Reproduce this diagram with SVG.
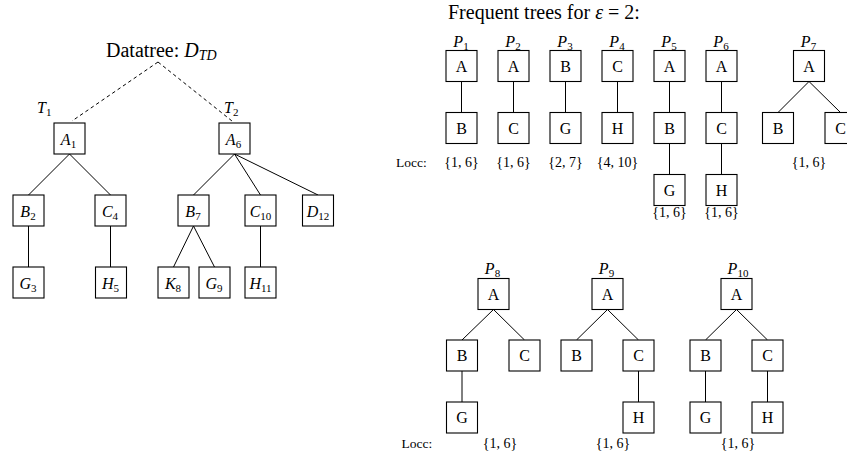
<svg xmlns="http://www.w3.org/2000/svg" width="847" height="461" viewBox="0 0 847 461">
<style>
text{font-family:"Liberation Serif","Times New Roman",serif;fill:#000}
.big{font-size:20px}
.lab{font-size:16px;text-anchor:middle}
.m{font-size:16px;font-style:italic}
.mc{font-size:16px;font-style:italic;text-anchor:middle}
.sub{font-size:11px;font-style:normal}
.small{font-size:13.5px}
.set{font-size:14px;text-anchor:middle}
rect{fill:#fff;stroke:#000;stroke-width:1.1}
#connectors line{stroke:#000;stroke-width:1}
#connectors .dash{stroke-dasharray:3.5 3}
</style>
<rect x="0" y="0" width="847" height="461" style="fill:#fff;stroke:none"/>

<g id="connectors">
<line class="dash" x1="158" y1="62" x2="72" y2="121"/>
<line class="dash" x1="158" y1="62" x2="232" y2="121"/>
<line x1="69.5" y1="154" x2="28.5" y2="195"/>
<line x1="69.5" y1="154" x2="110.5" y2="195"/>
<line x1="234.5" y1="154" x2="193.5" y2="195"/>
<line x1="234.5" y1="154" x2="260.5" y2="195"/>
<line x1="234.5" y1="154" x2="318" y2="195"/>
<line x1="28.5" y1="226" x2="28.5" y2="267"/>
<line x1="110.5" y1="226" x2="110.5" y2="267"/>
<line x1="193.5" y1="226" x2="173.5" y2="267"/>
<line x1="193.5" y1="226" x2="214.5" y2="267"/>
<line x1="260.5" y1="226" x2="260.5" y2="267"/>

<line x1="461.5" y1="81.5" x2="461.5" y2="112.5"/>
<line x1="513.5" y1="81.5" x2="513.5" y2="112.5"/>
<line x1="565.5" y1="81.5" x2="565.5" y2="112.5"/>
<line x1="617.5" y1="81.5" x2="617.5" y2="112.5"/>
<line x1="669.5" y1="81.5" x2="669.5" y2="112.5"/>
<line x1="669.5" y1="143.5" x2="669.5" y2="174.5"/>
<line x1="721.5" y1="81.5" x2="721.5" y2="112.5"/>
<line x1="721.5" y1="143.5" x2="721.5" y2="174.5"/>
<line x1="809" y1="81.5" x2="778" y2="112.5"/>
<line x1="809" y1="81.5" x2="840.5" y2="112.5"/>

<line x1="493.5" y1="309.5" x2="462" y2="340"/>
<line x1="493.5" y1="309.5" x2="524.5" y2="340"/>
<line x1="462" y1="371" x2="462" y2="402"/>
<line x1="607.5" y1="309.5" x2="576.5" y2="340"/>
<line x1="607.5" y1="309.5" x2="638.5" y2="340"/>
<line x1="638.5" y1="371" x2="638.5" y2="402"/>
<line x1="736.5" y1="309.5" x2="705.5" y2="340"/>
<line x1="736.5" y1="309.5" x2="767.5" y2="340"/>
<line x1="705.5" y1="371" x2="705.5" y2="402"/>
<line x1="767.5" y1="371" x2="767.5" y2="402"/>
</g>

<g id="title-left">
<text class="big" x="106" y="57">Datatree: <tspan font-style="italic">D</tspan><tspan font-style="italic" font-size="14" dy="3">TD</tspan></text>
<text class="m" x="37" y="113">T<tspan class="sub" dy="3">1</tspan></text>
<text class="m" x="224" y="113">T<tspan class="sub" dy="3">2</tspan></text>
</g>

<g id="A1"><rect x="54" y="123" width="31" height="31"/><text class="mc" x="68.5" y="145">A<tspan class="sub" dy="3">1</tspan></text></g>
<g id="A6"><rect x="219" y="123" width="31" height="31"/><text class="mc" x="233.5" y="145">A<tspan class="sub" dy="3">6</tspan></text></g>
<g id="B2"><rect x="13" y="195" width="31" height="31"/><text class="mc" x="28" y="217">B<tspan class="sub" dy="3">2</tspan></text></g>
<g id="C4"><rect x="95" y="195" width="31" height="31"/><text class="mc" x="110" y="217">C<tspan class="sub" dy="3">4</tspan></text></g>
<g id="B7"><rect x="178" y="195" width="31" height="31"/><text class="mc" x="193" y="217">B<tspan class="sub" dy="3">7</tspan></text></g>
<g id="C10"><rect x="245" y="195" width="31" height="31"/><text class="mc" x="260.5" y="217">C<tspan class="sub" dy="3">10</tspan></text></g>
<g id="D12"><rect x="302.5" y="195" width="31" height="31"/><text class="mc" x="318" y="217">D<tspan class="sub" dy="3">12</tspan></text></g>
<g id="G3"><rect x="13" y="267" width="31" height="31"/><text class="mc" x="28" y="289">G<tspan class="sub" dy="3">3</tspan></text></g>
<g id="H5"><rect x="95.5" y="267" width="31" height="31"/><text class="mc" x="110.5" y="289">H<tspan class="sub" dy="3">5</tspan></text></g>
<g id="K8"><rect x="158" y="267" width="31" height="31"/><text class="mc" x="173" y="289">K<tspan class="sub" dy="3">8</tspan></text></g>
<g id="G9"><rect x="199" y="267" width="31" height="31"/><text class="mc" x="214" y="289">G<tspan class="sub" dy="3">9</tspan></text></g>
<g id="H11"><rect x="245" y="267" width="31" height="31"/><text class="mc" x="260.5" y="289">H<tspan class="sub" dy="3">11</tspan></text></g>

<g id="title-right">
<text class="big" x="448" y="18.5">Frequent trees for <tspan font-style="italic">ε</tspan> = 2:</text>
<text class="small" x="396" y="167">Locc:</text>
<text class="small" x="401.5" y="448">Locc:</text>
</g>

<g id="P1">
<text class="mc" x="461" y="46.5">P<tspan class="sub" dy="3">1</tspan></text>
<rect x="446" y="50.5" width="31" height="31"/><text class="lab" x="461.5" y="71.5">A</text>
<rect x="446" y="112.5" width="31" height="31"/><text class="lab" x="461.5" y="133.5">B</text>
<text class="set" x="461.5" y="167">{1, 6}</text>
</g>
<g id="P2">
<text class="mc" x="513" y="46.5">P<tspan class="sub" dy="3">2</tspan></text>
<rect x="498" y="50.5" width="31" height="31"/><text class="lab" x="513.5" y="71.5">A</text>
<rect x="498" y="112.5" width="31" height="31"/><text class="lab" x="513.5" y="133.5">C</text>
<text class="set" x="513.5" y="167">{1, 6}</text>
</g>
<g id="P3">
<text class="mc" x="565" y="46.5">P<tspan class="sub" dy="3">3</tspan></text>
<rect x="550" y="50.5" width="31" height="31"/><text class="lab" x="565.5" y="71.5">B</text>
<rect x="550" y="112.5" width="31" height="31"/><text class="lab" x="565.5" y="133.5">G</text>
<text class="set" x="565.5" y="167">{2, 7}</text>
</g>
<g id="P4">
<text class="mc" x="617" y="46.5">P<tspan class="sub" dy="3">4</tspan></text>
<rect x="602" y="50.5" width="31" height="31"/><text class="lab" x="617.5" y="71.5">C</text>
<rect x="602" y="112.5" width="31" height="31"/><text class="lab" x="617.5" y="133.5">H</text>
<text class="set" x="617.5" y="167">{4, 10}</text>
</g>
<g id="P5">
<text class="mc" x="669" y="46.5">P<tspan class="sub" dy="3">5</tspan></text>
<rect x="654" y="50.5" width="31" height="31"/><text class="lab" x="669.5" y="71.5">A</text>
<rect x="654" y="112.5" width="31" height="31"/><text class="lab" x="669.5" y="133.5">B</text>
<rect x="654" y="174.5" width="31" height="31"/><text class="lab" x="669.5" y="195.5">G</text>
<text class="set" x="669.5" y="217">{1, 6}</text>
</g>
<g id="P6">
<text class="mc" x="721" y="46.5">P<tspan class="sub" dy="3">6</tspan></text>
<rect x="706" y="50.5" width="31" height="31"/><text class="lab" x="721.5" y="71.5">A</text>
<rect x="706" y="112.5" width="31" height="31"/><text class="lab" x="721.5" y="133.5">C</text>
<rect x="706" y="174.5" width="31" height="31"/><text class="lab" x="721.5" y="195.5">H</text>
<text class="set" x="721.5" y="217">{1, 6}</text>
</g>
<g id="P7">
<text class="mc" x="808.5" y="46.5">P<tspan class="sub" dy="3">7</tspan></text>
<rect x="793.5" y="50.5" width="31" height="31"/><text class="lab" x="809" y="71.5">A</text>
<rect x="762.5" y="112.5" width="31" height="31"/><text class="lab" x="778" y="133.5">B</text>
<rect x="825" y="112.5" width="31" height="31"/><text class="lab" x="840.5" y="133.5">C</text>
<text class="set" x="809" y="167">{1, 6}</text>
</g>

<g id="P8">
<text class="mc" x="492.5" y="273.5">P<tspan class="sub" dy="3">8</tspan></text>
<rect x="478" y="278.5" width="31" height="31"/><text class="lab" x="493.5" y="299.5">A</text>
<rect x="446.5" y="340" width="31" height="31"/><text class="lab" x="462" y="361">B</text>
<rect x="509" y="340" width="31" height="31"/><text class="lab" x="524.5" y="361">C</text>
<rect x="446.5" y="402" width="31" height="31"/><text class="lab" x="462" y="423">G</text>
<text class="set" x="500" y="448">{1, 6}</text>
</g>
<g id="P9">
<text class="mc" x="606.5" y="273.5">P<tspan class="sub" dy="3">9</tspan></text>
<rect x="592" y="278.5" width="31" height="31"/><text class="lab" x="607.5" y="299.5">A</text>
<rect x="561" y="340" width="31" height="31"/><text class="lab" x="576.5" y="361">B</text>
<rect x="623" y="340" width="31" height="31"/><text class="lab" x="638.5" y="361">C</text>
<rect x="623" y="402" width="31" height="31"/><text class="lab" x="638.5" y="423">H</text>
<text class="set" x="613" y="448">{1, 6}</text>
</g>
<g id="P10">
<text class="mc" x="738" y="273.5">P<tspan class="sub" dy="3">10</tspan></text>
<rect x="721" y="278.5" width="31" height="31"/><text class="lab" x="736.5" y="299.5">A</text>
<rect x="690" y="340" width="31" height="31"/><text class="lab" x="705.5" y="361">B</text>
<rect x="752" y="340" width="31" height="31"/><text class="lab" x="767.5" y="361">C</text>
<rect x="690" y="402" width="31" height="31"/><text class="lab" x="705.5" y="423">G</text>
<rect x="752" y="402" width="31" height="31"/><text class="lab" x="767.5" y="423">H</text>
<text class="set" x="738" y="448">{1, 6}</text>
</g>
</svg>
